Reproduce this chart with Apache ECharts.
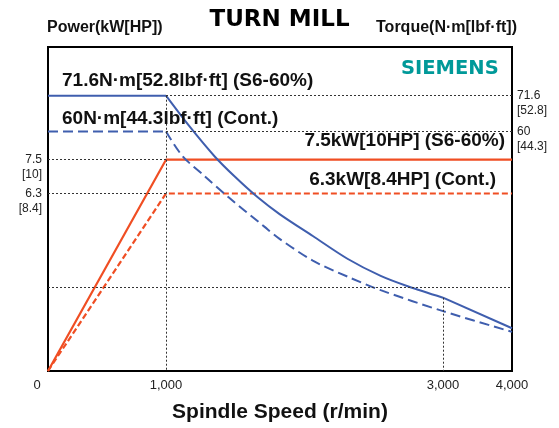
<!DOCTYPE html>
<html><head><meta charset="utf-8">
<script src="https://cdn.jsdelivr.net/npm/echarts@6/dist/echarts.min.js"></script>
<style>html,body{margin:0;padding:0;background:#fff}#c{width:559px;height:428px}</style>
</head><body><div id="c"></div>
<script>
// ---- data (rpm, kW, N·m) ----
const speedTicks = [0, 1000, 3000, 4000];
const speedTickLabels = ['0', '1,000', '3,000', '4,000'];
const powerS6 = [[0, 0], [1000, 7.5], [4000, 7.5]];
const powerCont = [[0, 0], [1000, 6.3], [4000, 6.3]];
const torqueS6 = [[0, 71.6], [1000, 71.6], [1170, 61.5], [1350, 53.1], [1500, 47.9], [1660, 43.4], [1820, 39.9], [2060, 35.8], [2310, 32.0], [2550, 29.4], [2750, 27.9], [3000, 26.4], [4000, 22.7]];
const torqueCont = [[0, 60], [1000, 60], [1120, 53.1], [1280, 48.1], [1450, 43.4], [1710, 37.5], [1820, 35.3], [2060, 31.7], [2310, 29.3], [2550, 27.4], [3000, 24.7], [4000, 22.3]];
const powerTicks = [7.5, 6.3];
const powerTickLabels = ['7.5\n[10]', '6.3\n[8.4]'];
const torqueTicks = [71.6, 60];
const torqueTickLabels = ['71.6\n[52.8]', '60\n[44.3]'];
const torqueGuide = 27.8;
const cornerSpeed = 1000, kneeSpeed = 3000, maxSpeed = 4000;
const kneeTorqueS6 = 26.4;
const annotations = ['71.6N·m[52.8lbf·ft] (S6-60%)', '60N·m[44.3lbf·ft] (Cont.)', '7.5kW[10HP] (S6-60%)', '6.3kW[8.4HP] (Cont.)'];

// ---- non-linear speed axis of the original drawing (piecewise scale) ----
const speedScaleIn = [0, 1000, 3000, 4000];
const speedScaleOut = [0, 118, 395, 464];
function sx(r) {
  for (let i = 1; i < speedScaleIn.length; i++) {
    if (r <= speedScaleIn[i]) {
      const t = (r - speedScaleIn[i - 1]) / (speedScaleIn[i] - speedScaleIn[i - 1]);
      return speedScaleOut[i - 1] + t * (speedScaleOut[i] - speedScaleOut[i - 1]);
    }
  }
  return speedScaleOut[speedScaleOut.length - 1];
}
const mapPts = arr => arr.map(p => [sx(p[0]), p[1]]);
const idxOf = (arr, r) => arr.findIndex(p => p[0] === r);

const TMIN = 18.38, TMAX = 91.08;
const BLUE = '#3f5eae', ORANGE = '#f04e23';
const F = 'Liberation Sans, Arial, sans-serif';
const dot = { color: '#333', type: [2, 2], width: 1 };
const tickLbl = { show: true, fontFamily: F, fontSize: 12, lineHeight: 15, color: '#222', distance: 6 };

const iC = idxOf(torqueS6, cornerSpeed), iK = idxOf(torqueS6, kneeSpeed);
const jC = idxOf(torqueCont, cornerSpeed);

const chart = echarts.init(document.getElementById('c'), null, { renderer: 'canvas' });
const bold19 = { fontFamily: F, fontWeight: 'bold', fontSize: 19, color: '#111' };
function blueLine(data, dashed, smooth) {
  return {
    type: 'line', yAxisIndex: 1, data: mapPts(data), symbol: 'none', z: 3,
    smooth: smooth ? 0.3 : false,
    lineStyle: { color: BLUE, width: 2, type: dashed ? [10, 5] : 'solid' }
  };
}
chart.setOption({
  animation: false,
  backgroundColor: '#fff',
  title: [
    { text: 'TURN MILL', left: 'center', top: 9, padding: 0, textStyle: { fontFamily: 'DejaVu Sans', fontWeight: 'bold', fontSize: 23, color: '#000' } },
    { text: 'Power(kW[HP])', left: 47, top: 20, padding: 0, textStyle: { fontFamily: F, fontWeight: 'bold', fontSize: 16, color: '#111' } },
    { text: 'Torque(N·m[lbf·ft])', right: 42, top: 20, padding: 0, textStyle: { fontFamily: F, fontWeight: 'bold', fontSize: 16, color: '#111' } },
    { text: 'SIEMENS', left: 401, top: 59, padding: 0, textStyle: { fontFamily: 'DejaVu Sans', fontWeight: 'bold', fontSize: 19.5, color: '#009999' } },
    { text: annotations[0], left: 62, top: 71, padding: 0, textStyle: bold19 },
    { text: annotations[1], left: 62, top: 109.5, padding: 0, textStyle: bold19 },
    { text: annotations[2], right: 54, top: 131.5, padding: 0, textStyle: bold19 },
    { text: annotations[3], right: 63, top: 170, padding: 0, textStyle: bold19 }
  ],
  grid: { left: 48, right: 47, top: 47, bottom: 55, show: true, borderColor: '#000', borderWidth: 2 },
  xAxis: {
    type: 'value', min: 0, max: sx(maxSpeed),
    axisLine: { show: false }, axisTick: { show: false }, splitLine: { show: false },
    axisLabel: {
      customValues: speedTicks.map(sx), margin: 8, fontFamily: F, fontSize: 13, color: '#222',
      formatter: v => {
        const i = speedTicks.findIndex(t => Math.abs(sx(t) - v) < 0.01);
        const s = i >= 0 ? speedTickLabels[i] : '';
        return i === 0 ? '{z|' + s + '}' : s;
      },
      rich: { z: { padding: [0, 22, 0, 0], fontFamily: F, fontSize: 13, color: '#222' } }
    },
    name: 'Spindle Speed (r/min)', nameLocation: 'middle', nameGap: 31,
    nameTextStyle: { fontFamily: F, fontWeight: 'bold', fontSize: 21, color: '#111' }
  },
  yAxis: [
    {
      type: 'value', min: 0, max: 11.5,
      axisLine: { show: false }, axisTick: { show: false }, splitLine: { show: false }, axisLabel: { show: false }
    },
    {
      type: 'log', logBase: 10, min: TMIN, max: TMAX, position: 'right',
      axisLine: { show: false }, axisTick: { show: false }, splitLine: { show: false }, axisLabel: { show: false }
    }
  ],
  series: [
    {
      type: 'line', yAxisIndex: 0, data: [], z: 1, silent: true,
      markLine: {
        symbol: 'none', silent: true, animation: false, label: { show: false }, lineStyle: dot,
        data: powerTicks.map((p, i) => [
          { coord: [sx(0), p], label: Object.assign({ position: 'start', formatter: ' \n' + powerTickLabels[i] }, tickLbl) },
          { coord: [sx(cornerSpeed), p] }
        ])
      }
    },
    {
      type: 'line', yAxisIndex: 1, data: [], z: 1, silent: true,
      markLine: {
        symbol: 'none', silent: true, animation: false, label: { show: false }, lineStyle: dot,
        data: torqueTicks.map((t, i) => [
          { coord: [sx(cornerSpeed), t], label: Object.assign({ position: 'end', formatter: ' \n' + torqueTickLabels[i] }, tickLbl, { distance: 5 }) },
          { coord: [sx(maxSpeed), t] }
        ]).concat([
          [{ coord: [sx(0), torqueGuide] }, { coord: [sx(maxSpeed), torqueGuide] }],
          [{ coord: [sx(cornerSpeed), torqueTicks[0]] }, { coord: [sx(cornerSpeed), TMIN] }],
          [{ coord: [sx(kneeSpeed), kneeTorqueS6] }, { coord: [sx(kneeSpeed), TMIN] }]
        ])
      }
    },
    { name: 'Power S6', type: 'line', yAxisIndex: 0, data: mapPts(powerS6), symbol: 'none', z: 3, lineStyle: { color: ORANGE, width: 2.2 } },
    { name: 'Power Cont', type: 'line', yAxisIndex: 0, data: mapPts(powerCont), symbol: 'none', z: 3, lineStyle: { color: ORANGE, width: 2.2, type: [6, 3] } },
    blueLine(torqueS6.slice(0, iC + 1), false, false),
    blueLine(torqueS6.slice(iC, iK + 1), false, true),
    blueLine(torqueS6.slice(iK), false, false),
    blueLine(torqueCont.slice(0, jC + 1), true, false),
    blueLine(torqueCont.slice(jC), true, true)
  ]
});
</script>
</body></html>
